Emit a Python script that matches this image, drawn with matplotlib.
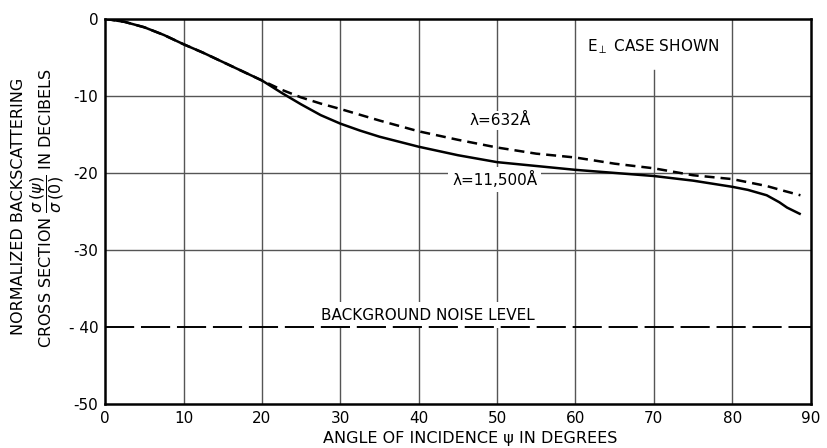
import matplotlib
matplotlib.use("Agg")
import matplotlib.pyplot as plt

# Angle of incidence (degrees) and normalized backscatter (dB)
angle_11500 = [0, 2.5, 5, 7.5, 10, 12.5, 15, 17.5, 20, 22.5, 25, 27.5, 30, 32.5, 35,
               40, 45, 50, 55, 60, 65, 70, 75, 80, 82, 84.4, 86, 87, 88.6]
sigma_11500 = [0, -0.4, -1.1, -2.1, -3.3, -4.4, -5.6, -6.8, -8.0, -9.6, -11.1, -12.5,
               -13.6, -14.5, -15.3, -16.6, -17.7, -18.6, -19.1, -19.6, -20.0, -20.4,
               -21.0, -21.8, -22.2, -22.9, -23.8, -24.5, -25.3]

angle_632 = [0, 2.5, 5, 7.5, 10, 12.5, 15, 17.5, 20, 22.5, 25, 27.5, 30, 35, 40, 45,
             50, 55, 60, 65, 70, 75, 80, 84.4, 86.5, 88.7]
sigma_632 = [0, -0.4, -1.1, -2.1, -3.3, -4.4, -5.6, -6.8, -8.0, -9.2, -10.2, -11.0,
             -11.7, -13.2, -14.6, -15.7, -16.7, -17.5, -18.0, -18.8, -19.4, -20.3,
             -20.8, -21.7, -22.3, -22.9]

noise_angle = [0, 90]
noise_level = [-40, -40]

x_ticks = [0, 10, 20, 30, 40, 50, 60, 70, 80, 90]
y_ticks = [0, -10, -20, -30, -40, -50]
y_ticklabels = ["0", "-10", "-20", "-30", "- 40", "-50"]

plt.rcParams["font.family"] = ["DejaVu Sans"]
plt.rcParams["mathtext.fontset"] = "dejavusans"

fig = plt.figure(figsize=(8.28, 4.48), dpi=100)
ax = fig.add_axes([0.127, 0.098, 0.852, 0.860])
ax.set_xlim(0, 90)
ax.set_ylim(-50, 0)

grid_kw = dict(color="#555555", linewidth=1.0, zorder=1)
for xv in x_ticks[1:-1]:
    top = -6.7 if xv == 70 else 0
    ax.plot([xv, xv], [-50, top], **grid_kw)
for yv in [-10, -20, -30]:
    ax.plot([0, 90], [yv, yv], **grid_kw)

ax.plot(noise_angle, noise_level, color="black", linewidth=1.4,
        dashes=(15, 3.5), zorder=3)
ax.plot(angle_632, sigma_632, color="black", linewidth=1.8,
        dashes=(4, 2.4), zorder=4)
ax.plot(angle_11500, sigma_11500, color="black", linewidth=1.8, zorder=5)

txt_kw = dict(fontsize=11, ha="center", va="center", zorder=2)
ax.text(69.9, -3.6, r"$\mathrm{E}_{\perp}$ CASE SHOWN",
        bbox=dict(facecolor="white", edgecolor="none", pad=2), **txt_kw)
ax.text(50.4, -13.2, "λ=632Å",
        bbox=dict(facecolor="white", edgecolor="none", pad=1.5), **txt_kw)
ax.text(49.7, -20.9, "λ=11,500Å",
        bbox=dict(facecolor="white", edgecolor="none", pad=3.0), **txt_kw)
ax.text(41.2, -38.5, "BACKGROUND NOISE LEVEL",
        bbox=dict(facecolor="white", edgecolor="none", pad=4.0), **txt_kw)

ax.set_xticks(x_ticks)
ax.set_yticks(y_ticks)
ax.set_yticklabels(y_ticklabels)
ax.tick_params(length=0, labelsize=11, pad=5)
for sp in ax.spines.values():
    sp.set_linewidth(1.8)

fig.text(0.568, 0.022, "ANGLE OF INCIDENCE ψ IN DEGREES", ha="center", va="center",
         fontsize=11.5)
fig.text(0.022, 0.54, "NORMALIZED BACKSCATTERING", rotation=90,
         ha="center", va="center", fontsize=11.5)
fig.text(0.057, 0.535, r"CROSS SECTION $\dfrac{\sigma\,(\psi)}{\sigma\,(0)}$ IN DECIBELS",
         rotation=90, ha="center", va="center", fontsize=11.5)

fig.savefig("out.png", dpi=100)
